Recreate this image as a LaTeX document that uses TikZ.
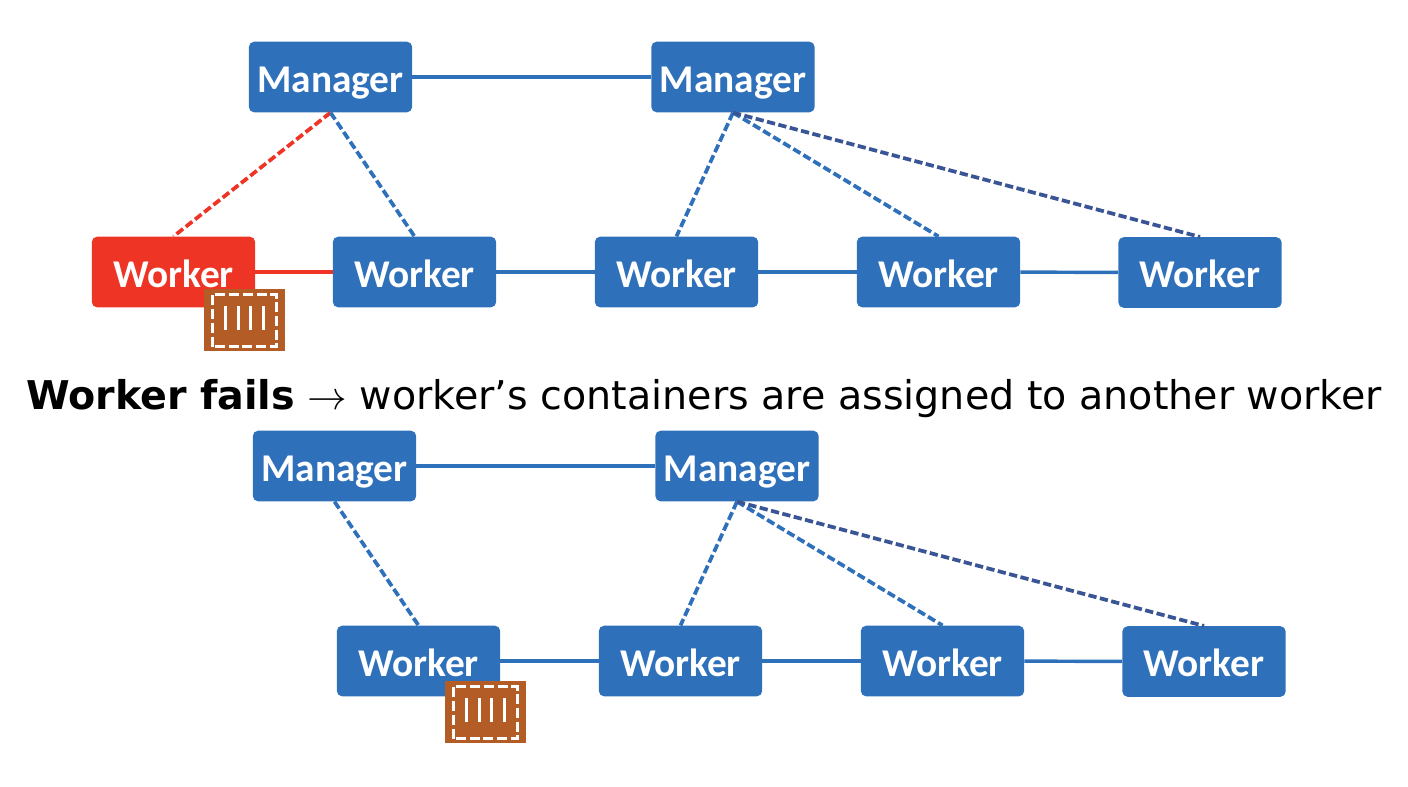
\documentclass[tikz,border=0pt]{standalone}
\usepackage{fix-cm}
\usepackage{fontspec}
\setmainfont{Carlito}
\newfontfamily\capfont{DejaVu Sans}
\usetikzlibrary{shapes,calc}
\definecolor{boxblue}{HTML}{2E70BA}
\definecolor{darkblue}{HTML}{3A5595}
\definecolor{failred}{HTML}{EE3424}
\definecolor{crate}{HTML}{B35C26}
\tikzset{
	px/.style={x=0.75pt,y=-0.75pt},
	nodebox/.style={draw=none,fill=boxblue,rounded corners=4pt,minimum width=122.5pt,minimum height=53pt,text=white,inner sep=0pt,text height=22.5pt,text depth=0pt,font=\fontsize{29.5}{29.5}\selectfont\bfseries},
	failbox/.style={nodebox,fill=failred},
	link/.style={boxblue,line width=2.6pt},
	ctl/.style={boxblue,line width=2.8pt,dash pattern=on 6.2pt off 2.6pt},
	ctldark/.style={ctl,darkblue},
	faillink/.style={link,failred},
	failctl/.style={ctl,failred},
	cratebox/.style={draw=none,fill=crate,minimum width=60.5pt,minimum height=46.5pt,inner sep=0pt}
}
% one container icon
\newcommand{\cratepic}[2]{
	\node[cratebox] (#1) at #2 {};
	\draw[white,line width=2.6pt,dash pattern=on 7.5pt off 2.8pt] ($(#1.center)+(-24pt,-20pt)$) rectangle ($(#1.center)+(24pt,19pt)$);
	\foreach \i in {-1.5,-0.5,0.5,1.5}
		\draw[white,line width=2.2pt] ($(#1.center)+(\i*9.6pt,-7.5pt)$) -- ($(#1.center)+(\i*9.6pt,10.7pt)$);
}
\begin{document}
\begin{tikzpicture}[px]
	\useasboundingbox (0,0) rectangle (1408,786);
	% before
	\node[nodebox] (m1) at (330.5,77) {Manager};
	\node[nodebox] (m2) at (733,77) {Manager};
	\node[failbox] (w0) at (173.5,272) {Worker};
	\node[nodebox] (w1) at (414.5,272) {Worker};
	\node[nodebox] (w2) at (676.5,272) {Worker};
	\node[nodebox] (w3) at (938.5,272) {Worker};
	\node[nodebox] (w4) at (1200,272.5) {Worker};
	\draw[link] (m1) -- (m2);
	\draw[faillink] (w0) -- (w1);
	\draw[link] (w1) -- (w2);
	\draw[link] (w2) -- (w3);
	\draw[link] (w3) -- (w4);
	\draw[failctl] (m1.south) -- (w0.north);
	\draw[ctl] (m1.south) -- (w1.north);
	\draw[ctl] (m2.south) -- (w2.north);
	\draw[ctl] (m2.south) -- (w3.north);
	\draw[ctldark] (m2.south) -- (w4.north);
	\cratepic{c1}{(244.5,320)}
	% caption
	\node[inner sep=0pt,font=\capfont\fontsize{29.7}{29.7}\selectfont] (cap) at (704,398.5) {\textbf{Worker fails} $\rightarrow$ worker’s containers are assigned to another worker};
	% after
	\node[nodebox] (m3) at (334.5,466) {Manager};
	\node[nodebox] (m4) at (737,466) {Manager};
	\node[nodebox] (w5) at (418.5,661) {Worker};
	\node[nodebox] (w6) at (680.5,661) {Worker};
	\node[nodebox] (w7) at (942.5,661) {Worker};
	\node[nodebox] (w8) at (1204,661.5) {Worker};
	\draw[link] (m3) -- (m4);
	\draw[link] (w5) -- (w6);
	\draw[link] (w6) -- (w7);
	\draw[link] (w7) -- (w8);
	\draw[ctl] (m3.south) -- (w5.north);
	\draw[ctl] (m4.south) -- (w6.north);
	\draw[ctl] (m4.south) -- (w7.north);
	\draw[ctldark] (m4.south) -- (w8.north);
	\cratepic{c2}{(485.5,712)}
\end{tikzpicture}
\end{document}
